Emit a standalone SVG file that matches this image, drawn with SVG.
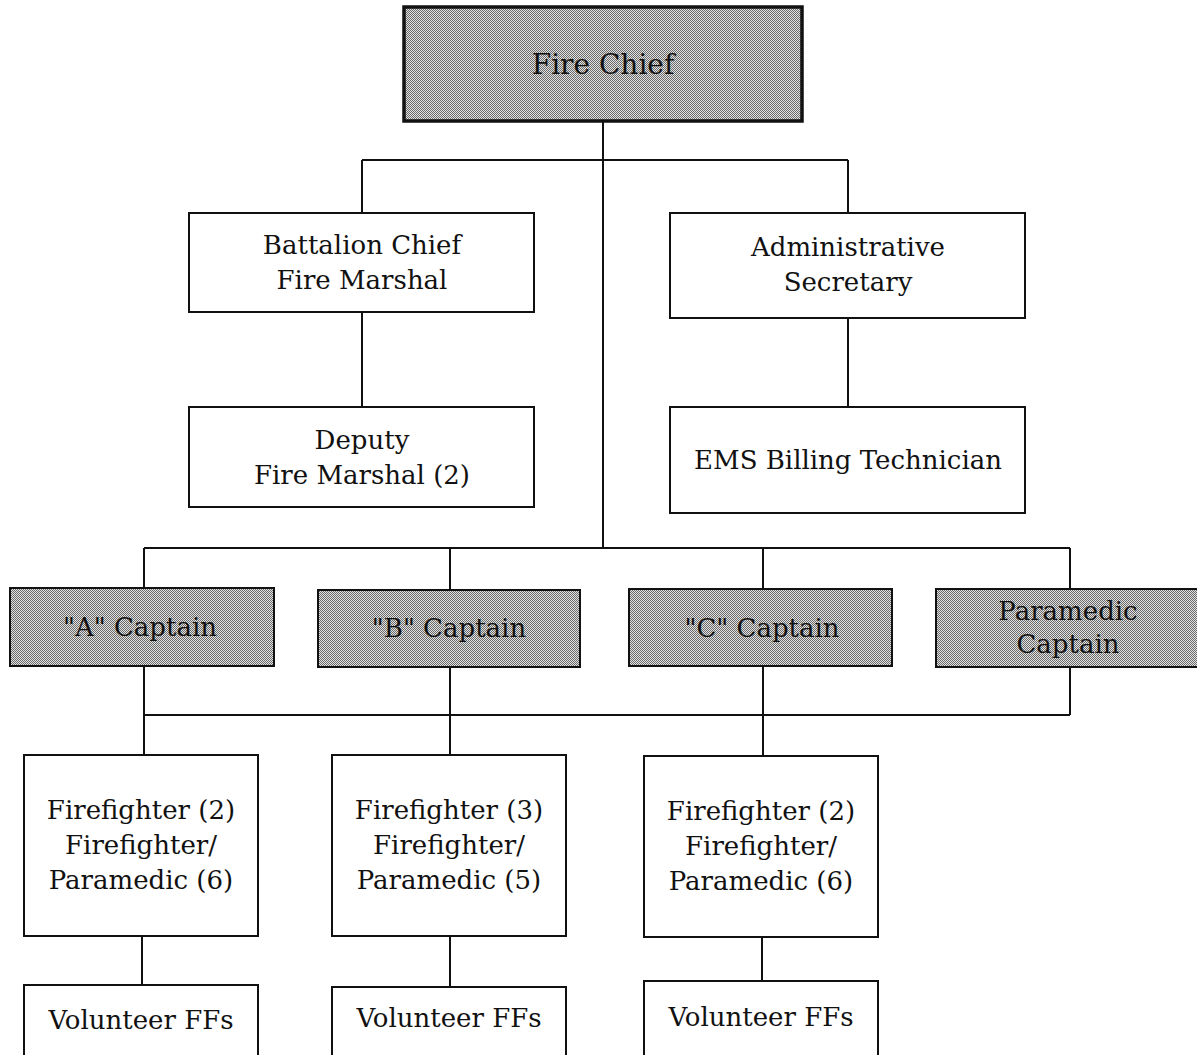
<svg xmlns="http://www.w3.org/2000/svg" width="1197" height="1055" viewBox="0 0 1197 1055">
<style>
.box{fill:#fff;stroke:#111;stroke-width:2}
.sh{fill:url(#dots);stroke:#111;stroke-width:2}
.t{font-family:"DejaVu Serif","Liberation Serif",serif;font-size:26px;fill:#111;text-anchor:middle}
.big{font-size:28px}
.ln{stroke:#111;stroke-width:2;fill:none}
</style>
<defs>
<pattern id="dots" width="2" height="2" patternUnits="userSpaceOnUse">
<rect width="2" height="2" fill="#e2e2e2"/>
<rect width="1" height="1" fill="#6a6a6a"/>
<rect x="1" y="1" width="1" height="1" fill="#6a6a6a"/>
</pattern>
</defs>
<rect width="1197" height="1055" fill="#fff"/>
<g id="connectors">
<path class="ln" d="M603 121V548M362 160H848M362 160V213M848 160V213M362 312V407M848 318V407"/>
<path class="ln" d="M144 548H1070M144 548V588M450 548V590M763 548V589M1070 548V589"/>
<path class="ln" d="M144 666V755M450 667V755M763 666V756M1070 667V715M144 715H1070"/>
<path class="ln" d="M142 936V985M450 936V987M762 937V981"/>
</g>
<g id="fire-chief"><rect x="404" y="7" width="398" height="114" class="sh" style="stroke-width:3.5"/><text class="t big" x="603" y="74">Fire Chief</text></g>
<g id="battalion-chief"><rect x="189" y="213" width="345" height="99" class="box"/><text class="t" x="362" y="254">Battalion Chief</text><text class="t" x="362" y="289">Fire Marshal</text></g>
<g id="deputy"><rect x="189" y="407" width="345" height="100" class="box"/><text class="t" x="362" y="449">Deputy</text><text class="t" x="362" y="484">Fire Marshal (2)</text></g>
<g id="admin"><rect x="670" y="213" width="355" height="105" class="box"/><text class="t" x="848" y="256">Administrative</text><text class="t" x="848" y="291">Secretary</text></g>
<g id="ems"><rect x="670" y="407" width="355" height="106" class="box"/><text class="t" x="848" y="469">EMS Billing Technician</text></g>
<g id="capt-a"><rect x="10" y="588" width="264" height="78" class="sh"/><text class="t" x="140" y="636">"A" Captain</text></g>
<g id="capt-b"><rect x="318" y="590" width="262" height="77" class="sh"/><text class="t" x="449" y="637">"B" Captain</text></g>
<g id="capt-c"><rect x="629" y="589" width="263" height="77" class="sh"/><text class="t" x="762" y="637">"C" Captain</text></g>
<g id="capt-p"><rect x="936" y="589" width="270" height="78" class="sh"/><text class="t" x="1068" y="620">Paramedic</text><text class="t" x="1068" y="653">Captain</text></g>
<g id="ff-a"><rect x="24" y="755" width="234" height="181" class="box"/><text class="t" x="141" y="819">Firefighter (2)</text><text class="t" x="141" y="854">Firefighter/</text><text class="t" x="141" y="889">Paramedic (6)</text></g>
<g id="ff-b"><rect x="332" y="755" width="234" height="181" class="box"/><text class="t" x="449" y="819">Firefighter (3)</text><text class="t" x="449" y="854">Firefighter/</text><text class="t" x="449" y="889">Paramedic (5)</text></g>
<g id="ff-c"><rect x="644" y="756" width="234" height="181" class="box"/><text class="t" x="761" y="820">Firefighter (2)</text><text class="t" x="761" y="855">Firefighter/</text><text class="t" x="761" y="890">Paramedic (6)</text></g>
<g id="vol-a"><rect x="24" y="985" width="234" height="90" class="box"/><text class="t" x="141" y="1029">Volunteer FFs</text></g>
<g id="vol-b"><rect x="332" y="987" width="234" height="90" class="box"/><text class="t" x="449" y="1027">Volunteer FFs</text></g>
<g id="vol-c"><rect x="644" y="981" width="234" height="90" class="box"/><text class="t" x="761" y="1026">Volunteer FFs</text></g>
</svg>
